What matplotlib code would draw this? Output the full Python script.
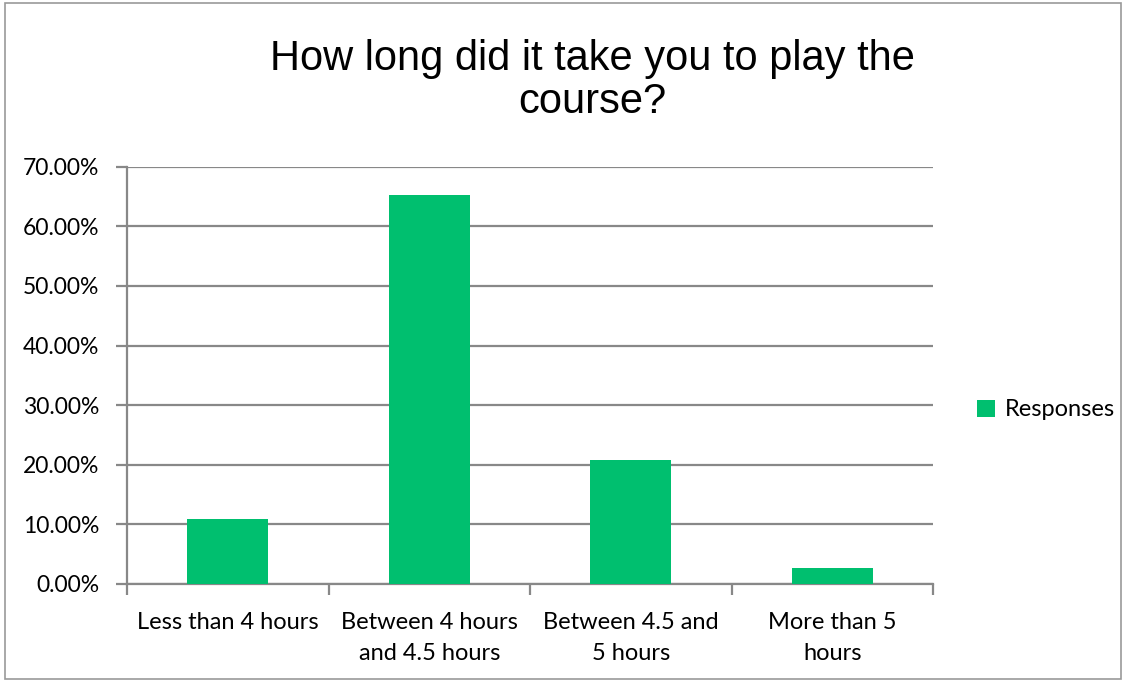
import matplotlib.pyplot as plt
from matplotlib.ticker import FuncFormatter, FixedLocator, NullFormatter
from matplotlib.patches import Rectangle

categories = ["Less than 4 hours", "Between 4 hours\nand 4.5 hours",
              "Between 4.5 and\n5 hours", "More than 5\nhours"]
responses = [0.109, 0.653, 0.208, 0.027]
title_lines = ["How long did it take you to play the", "course?"]

green = "#00bf6f"
grid = "#888888"
font = "Lato"

fig = plt.figure(figsize=(11.26, 6.8), dpi=100)
ax = fig.add_axes([0.1128, 0.1412, 0.7158, 0.6137])

x = range(len(categories))
ax.bar(x, responses, width=0.4, color=green, label="Responses", zorder=3)

ax.set_xlim(-0.5, len(categories) - 0.5)
ax.set_ylim(0, 0.7)
ax.set_yticks([i / 10 for i in range(8)])
ax.yaxis.set_major_formatter(FuncFormatter(lambda v, p: f"{v * 100:.2f}%"))
ax.grid(axis="y", color=grid, linewidth=1.6, zorder=0)

# category labels centred, tick marks at the boundaries
ax.set_xticks(list(x))
ax.set_xticklabels(categories, fontsize=17, family=font, linespacing=1.6)
ax.tick_params(axis="x", length=0, pad=20)
ax.xaxis.set_minor_locator(FixedLocator([i - 0.5 for i in range(len(categories) + 1)]))
ax.xaxis.set_minor_formatter(NullFormatter())
ax.tick_params(axis="x", which="minor", length=8, width=1.6, color=grid)
ax.tick_params(axis="y", length=8, width=1.6, color=grid, labelsize=16.5, pad=12)
for lab in ax.get_yticklabels():
    lab.set_family(font)

for side in ["top", "right"]:
    ax.spines[side].set_visible(False)
for side in ["left", "bottom"]:
    ax.spines[side].set_color(grid)
    ax.spines[side].set_linewidth(1.6)

# two title lines placed by baseline
for line, ypx in zip(title_lines, [70, 113]):
    fig.text(592 / 1126, 1 - ypx / 680, line, ha="center", va="baseline",
             fontsize=30, family="Liberation Sans")

ax.legend(loc="center left", bbox_to_anchor=(1.028, 0.417), frameon=False,
          prop={"family": font, "size": 17}, handlelength=0.75,
          handleheight=0.75, handletextpad=0.45)

# outer chart border
fig.patches.append(Rectangle((0.004, 0.002), 0.992, 0.993, transform=fig.transFigure,
                             fill=False, edgecolor="#999999", linewidth=1.2))

fig.savefig("out.png", dpi=100)
